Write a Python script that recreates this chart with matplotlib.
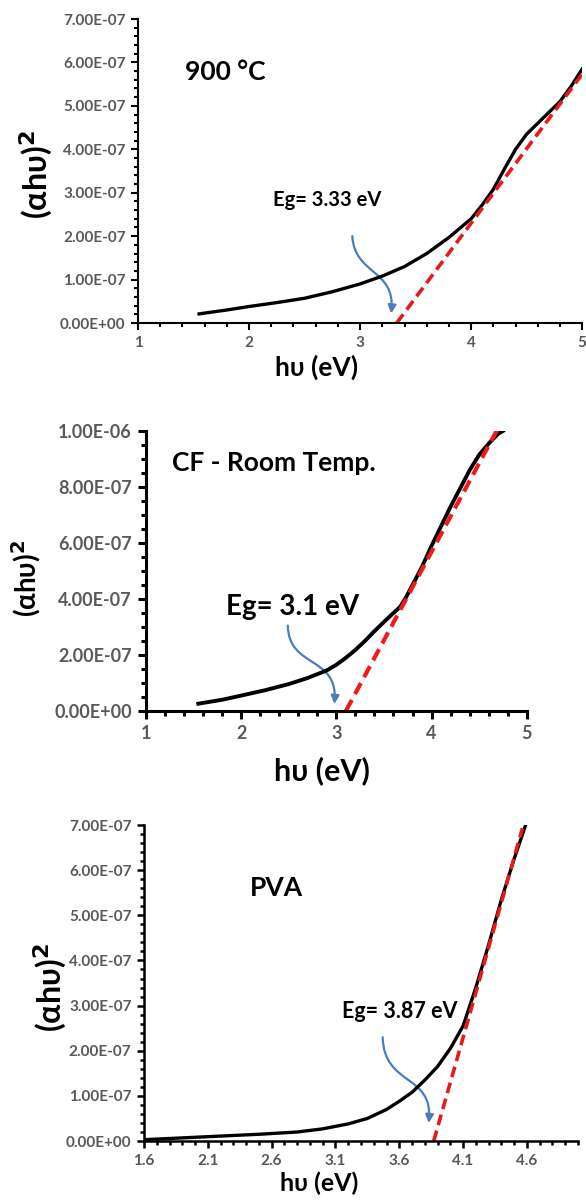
# Tauc plots: (alpha h nu)^2 vs photon energy for three samples
import matplotlib.pyplot as plt
from matplotlib.path import Path
from matplotlib.patches import FancyArrowPatch
from matplotlib.ticker import FuncFormatter, MultipleLocator

plt.rcParams['font.family'] = ['Lato', 'DejaVu Sans']
plt.rcParams['font.weight'] = 'bold'
plt.rcParams['mathtext.default'] = 'bf'

# Panel 1: 900 C
e_900 = [1.55, 1.8, 2.0, 2.25, 2.5, 2.75, 3.0, 3.2, 3.4, 3.6, 3.8, 4.0,
         4.1, 4.2, 4.3, 4.4, 4.5, 4.6, 4.7, 4.8, 4.9, 5.0]
a_900 = [0.21, 0.30, 0.38, 0.47, 0.57, 0.72, 0.90, 1.08, 1.30, 1.60, 1.97, 2.40,
         2.72, 3.08, 3.55, 4.00, 4.35, 4.60, 4.85, 5.10, 5.45, 5.85]
fit_900_x = [3.33, 5.02]
fit_900_y = [0.0, 5.80]

# Panel 2: CF - room temperature
e_cf = [1.55, 1.8, 2.0, 2.25, 2.5, 2.7, 2.9, 3.0, 3.1, 3.2, 3.3, 3.4, 3.5,
        3.6, 3.67, 3.73, 3.8, 3.9, 4.0, 4.1, 4.2, 4.3, 4.4, 4.5, 4.6, 4.7, 4.75]
a_cf = [0.26, 0.40, 0.55, 0.74, 0.96, 1.18, 1.45, 1.65, 1.90, 2.18, 2.50, 2.85, 3.18,
        3.50, 3.72, 4.05, 4.50, 5.15, 5.90, 6.60, 7.30, 7.95, 8.60, 9.15, 9.55, 9.90, 10.0]
fit_cf_x = [3.1, 4.73]
fit_cf_y = [0.0, 10.3]

# Panel 3: PVA
e_pva = [1.6, 1.9, 2.2, 2.5, 2.8, 3.0, 3.2, 3.35, 3.5, 3.6, 3.7, 3.8,
         3.9, 4.0, 4.1, 4.2, 4.3, 4.4, 4.5, 4.59]
a_pva = [0.03, 0.07, 0.11, 0.15, 0.20, 0.27, 0.38, 0.50, 0.70, 0.88, 1.08, 1.35,
         1.65, 2.05, 2.55, 3.40, 4.35, 5.35, 6.25, 7.00]
fit_pva_x = [3.87, 4.565]
fit_pva_y = [0.0, 6.93]

scale = 1e-7  # curve values above are in units of 1e-7

sci = FuncFormatter(lambda v, p: f"{v:.2E}")
grey = '#595959'
blue = '#4a7ebb'
ylab = r'(αhυ)$^{\mathbf{2}}$'


def style_axis(ax, lw, tick_size, tick_len):
    for side in ['top', 'right']:
        ax.spines[side].set_visible(False)
    for side in ['left', 'bottom']:
        ax.spines[side].set_linewidth(lw)
    ax.tick_params(which='major', direction='out', length=tick_len, width=lw,
                   labelsize=tick_size, labelcolor=grey, pad=4)
    ax.tick_params(which='minor', direction='out', length=tick_len * 0.6, width=lw)
    ax.yaxis.set_major_formatter(sci)


def gap_arrow(ax, pts):
    path = Path(pts, [Path.MOVETO, Path.CURVE4, Path.CURVE4, Path.CURVE4])
    arr = FancyArrowPatch(path=path, arrowstyle='-|>', mutation_scale=12,
                          color=blue, lw=1.6)
    ax.add_patch(arr)


fig = plt.figure(figsize=(5.86, 12.03), dpi=100)

# ---- panel 1
ax1 = fig.add_axes([0.2355, 0.7315, 0.758, 0.2527])
ax1.plot(e_900, [v * scale for v in a_900], color='black', lw=2.4)
ax1.plot(fit_900_x, [v * scale for v in fit_900_y], color='#e8191c', lw=2.6,
         ls=(0, (3, 1.6)))
ax1.set_xlim(1, 5)
ax1.set_ylim(0, 7e-7)
ax1.xaxis.set_major_locator(MultipleLocator(1))
ax1.xaxis.set_minor_locator(MultipleLocator(0.2))
ax1.yaxis.set_major_locator(MultipleLocator(1e-7))
ax1.yaxis.set_minor_locator(MultipleLocator(0.2e-7))
style_axis(ax1, 1.5, 11, 5)
ax1.text(1.42, 5.78e-7, '900 °C', fontsize=19, fontweight='bold', va='center')
ax1.text(2.22, 2.83e-7, 'Eg= 3.33 eV', fontsize=14.5, fontweight='bold', va='center')
gap_arrow(ax1, [(2.93, 2.0e-7), (2.95, 1.1e-7), (3.32, 1.25e-7), (3.28, 0.22e-7)])
ax1.set_xlabel('hυ (eV)', fontsize=19, fontweight='bold')
ax1.set_ylabel(ylab, fontsize=23, fontweight='bold')
ax1.xaxis.set_label_coords(0.403, -0.105)
ax1.yaxis.set_label_coords(-0.187, 0.487)

# ---- panel 2
ax2 = fig.add_axes([0.249, 0.409, 0.650, 0.2328])
ax2.plot(e_cf, [v * scale for v in a_cf], color='black', lw=2.8)
ax2.plot(fit_cf_x, [v * scale for v in fit_cf_y], color='#f01a1a', lw=3.0,
         ls=(0, (3, 1.6)))
ax2.set_xlim(1, 5)
ax2.set_ylim(0, 1e-6)
ax2.xaxis.set_major_locator(MultipleLocator(1))
ax2.xaxis.set_minor_locator(MultipleLocator(0.2))
ax2.yaxis.set_major_locator(MultipleLocator(2e-7))
ax2.yaxis.set_minor_locator(MultipleLocator(0.5e-7))
style_axis(ax2, 2.2, 13, 6)
ax2.text(1.27, 8.86e-7, 'CF - Room Temp.', fontsize=19, fontweight='bold', va='center')
ax2.text(1.84, 3.71e-7, 'Eg= 3.1 eV', fontsize=20, fontweight='bold', va='center')
gap_arrow(ax2, [(2.49, 3.05e-7), (2.5, 1.5e-7), (3.02, 2.0e-7), (2.98, 0.25e-7)])
ax2.set_xlabel('hυ (eV)', fontsize=22, fontweight='bold')
ax2.set_ylabel(ylab, fontsize=20, fontweight='bold')
ax2.xaxis.set_label_coords(0.462, -0.16)
ax2.yaxis.set_label_coords(-0.27, 0.475)

# ---- panel 3
ax3 = fig.add_axes([0.2457, 0.0515, 0.7406, 0.2627])
ax3.plot(e_pva, [v * scale for v in a_pva], color='black', lw=2.4)
ax3.plot(fit_pva_x, [v * scale for v in fit_pva_y], color='#e8191c', lw=2.6,
         ls=(0, (3, 1.6)))
ax3.set_xlim(1.6, 5.0)
ax3.set_ylim(0, 7e-7)
ax3.set_xticks([1.6, 2.1, 2.6, 3.1, 3.6, 4.1, 4.6])
ax3.xaxis.set_minor_locator(MultipleLocator(0.1))
ax3.yaxis.set_major_locator(MultipleLocator(1e-7))
ax3.yaxis.set_minor_locator(MultipleLocator(0.2e-7))
style_axis(ax3, 1.8, 11, 5)
ax3.xaxis.set_major_formatter(FuncFormatter(lambda v, p: f"{v:.1f}"))
ax3.text(2.43, 5.6e-7, 'PVA', fontsize=19, fontweight='bold', va='center')
ax3.text(3.15, 2.86e-7, 'Eg= 3.87 eV', fontsize=15.5, fontweight='bold', va='center')
gap_arrow(ax3, [(3.47, 2.3e-7), (3.48, 1.2e-7), (3.87, 1.5e-7), (3.83, 0.4e-7)])
ax3.set_xlabel('hυ (eV)', fontsize=18, fontweight='bold')
ax3.set_ylabel(ylab, fontsize=23, fontweight='bold')
ax3.xaxis.set_label_coords(0.403, -0.095)
ax3.yaxis.set_label_coords(-0.173, 0.484)

fig.savefig('out.png', dpi=100, facecolor='white')
